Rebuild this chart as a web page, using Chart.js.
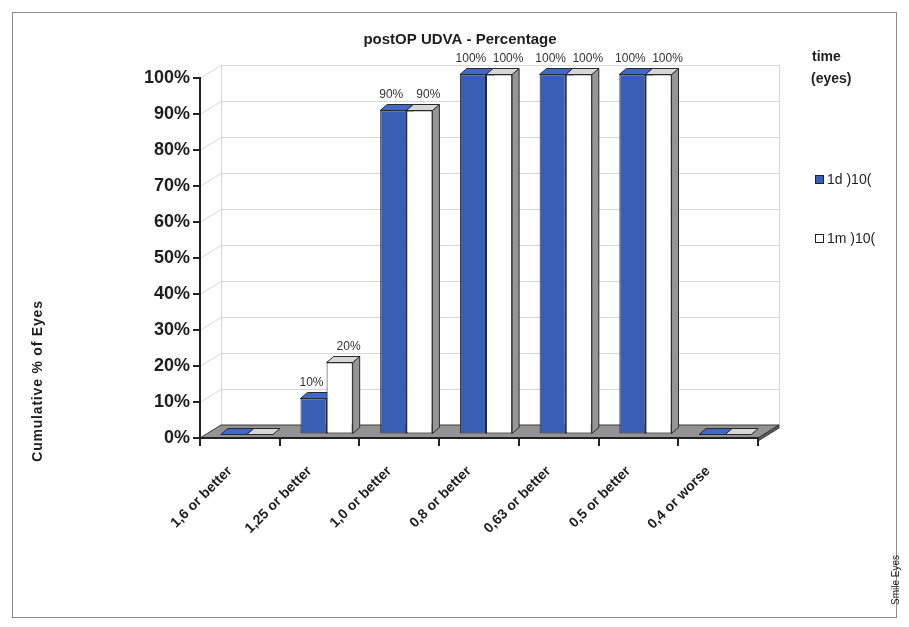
<!DOCTYPE html>
<html>
<head>
<meta charset="utf-8">
<title>postOP UDVA - Percentage</title>
<script src="https://cdn.jsdelivr.net/npm/chart.js@4.4.1/dist/chart.umd.min.js"></script>
<style>
  html, body { margin: 0; padding: 0; background: #ffffff; }
  #wrap { width: 909px; height: 627px; }
</style>
</head>
<body>
<div id="wrap"><canvas id="chart" width="909" height="627"></canvas></div>
<script>
// Cumulative visual acuity categories and the share of eyes reaching each
const categories = ['1,6 or better', '1,25 or better', '1,0 or better', '0,8 or better', '0,63 or better', '0,5 or better', '0,4 or worse'];
const seriesNames = ['1d )10(', '1m )10('];
const values1d = [0, 10, 90, 100, 100, 100, 0];
const values1m = [0, 20, 90, 100, 100, 100, 0];
const yTickValues = [0, 10, 20, 30, 40, 50, 60, 70, 80, 90, 100];

const chartTitle = 'postOP UDVA - Percentage';
const legendTitle = ['time', '(eyes)'];
const yAxisTitle = 'Cumulative % of Eyes';
const footNote = 'Smile Eyes';

const FONT = "'Liberation Sans', Arial, sans-serif";

// pseudo-3D geometry (pixels)
const WALL_DX = 21, WALL_DY = -13;   // depth of the floor / back wall
const BAR_OX = 7, BAR_OY = -3.5;     // bars sit in the middle of the floor depth
const BAR_DX = 7, BAR_DY = -6;       // depth of each bar

const palette = {
  blue:  { front: '#3a5db6', top: '#4068c4', side: '#2b4790' },
  white: { front: '#ffffff', top: '#d6d6d6', side: '#969696' },
  edge: '#2a2a2a',
  wallGrid: '#d6d6d6',
  floor: '#939393'
};
const faceColors = [palette.blue, palette.white];

function poly(ctx, pts, fill, stroke) {
  ctx.beginPath();
  ctx.moveTo(pts[0][0], pts[0][1]);
  for (let i = 1; i < pts.length; i++) ctx.lineTo(pts[i][0], pts[i][1]);
  ctx.closePath();
  if (fill) { ctx.fillStyle = fill; ctx.fill(); }
  if (stroke) { ctx.strokeStyle = stroke; ctx.lineWidth = 1; ctx.stroke(); }
}

const depthPlugin = {
  id: 'depth3d',
  beforeDraw(chart) {
    const ctx = chart.ctx;
    const a = chart.chartArea;
    const y = chart.scales.y;
    ctx.save();
    ctx.fillStyle = '#ffffff';
    ctx.fillRect(0, 0, chart.width, chart.height);
    // outer frame
    ctx.strokeStyle = '#8c8c8c';
    ctx.lineWidth = 1;
    ctx.strokeRect(12.5, 12.5, 884, 605);

    const y0 = y.getPixelForValue(0), y100 = y.getPixelForValue(100);
    // back wall gridlines and left wall diagonals
    ctx.strokeStyle = palette.wallGrid;
    ctx.lineWidth = 1;
    yTickValues.forEach(v => {
      const py = Math.round(y.getPixelForValue(v)) + 0.5;
      ctx.beginPath();
      ctx.moveTo(a.left, py);
      ctx.lineTo(a.left + WALL_DX, py + WALL_DY);
      ctx.lineTo(a.right + WALL_DX, py + WALL_DY);
      ctx.stroke();
    });
    ctx.beginPath();
    ctx.moveTo(a.left + WALL_DX + 0.5, y100 + WALL_DY);
    ctx.lineTo(a.left + WALL_DX + 0.5, y0 + WALL_DY);
    ctx.moveTo(a.right + WALL_DX + 0.5, y100 + WALL_DY);
    ctx.lineTo(a.right + WALL_DX + 0.5, y0 + WALL_DY);
    ctx.stroke();

    // floor
    poly(ctx, [[a.left, y0], [a.right, y0], [a.right + WALL_DX, y0 + WALL_DY], [a.left + WALL_DX, y0 + WALL_DY]], palette.floor, '#3a3a3a');
    poly(ctx, [[a.right, y0], [a.right + WALL_DX, y0 + WALL_DY], [a.right + WALL_DX, y0 + WALL_DY + 3], [a.right, y0 + 3]], '#5a5a5a', '#3a3a3a');
    ctx.restore();
  },
  beforeDatasetsDraw(chart) {
    const ctx = chart.ctx;
    ctx.save();
    // side faces, then top faces, of every bar
    const metas = chart.data.datasets.map((d, di) => chart.getDatasetMeta(di));
    metas.forEach((meta, di) => {
      meta.data.forEach(el => {
        const x2 = el.x + el.width / 2 + BAR_OX;
        const yt = el.y + BAR_OY, yb = el.base + BAR_OY;
        if (yb - yt > 0.5) {
          poly(ctx, [[x2, yt], [x2 + BAR_DX, yt + BAR_DY], [x2 + BAR_DX, yb + BAR_DY], [x2, yb]], faceColors[di].side, palette.edge);
        }
      });
    });
    metas.forEach((meta, di) => {
      meta.data.forEach(el => {
        const x1 = el.x - el.width / 2 + BAR_OX, x2 = el.x + el.width / 2 + BAR_OX;
        const yt = el.y + BAR_OY;
        poly(ctx, [[x1, yt], [x2, yt], [x2 + BAR_DX, yt + BAR_DY], [x1 + BAR_DX, yt + BAR_DY]], faceColors[di].top, palette.edge);
      });
    });
    // front faces are drawn by Chart.js, shifted into the bar plane
    ctx.translate(BAR_OX, BAR_OY);
  },
  afterDatasetsDraw(chart) {
    const ctx = chart.ctx;
    ctx.restore();
    ctx.save();
    // value labels above the bars
    ctx.font = '12px ' + FONT;
    ctx.fillStyle = '#333333';
    ctx.textAlign = 'center';
    ctx.textBaseline = 'middle';
    chart.data.datasets.forEach((ds, di) => {
      const meta = chart.getDatasetMeta(di);
      meta.data.forEach((el, i) => {
        const v = ds.data[i];
        if (!v) return;
        const lx = el.x + BAR_OX + (di === 0 ? -2 : 9);
        const ly = el.y + BAR_OY - 16;
        ctx.fillText(v + '%', lx, ly);
      });
    });
    ctx.restore();
  },
  afterDraw(chart) {
    const ctx = chart.ctx;
    ctx.save();
    ctx.fillStyle = '#1e1e1e';
    // chart title
    ctx.font = 'bold 15px ' + FONT;
    ctx.textAlign = 'center';
    ctx.textBaseline = 'middle';
    ctx.fillText(chartTitle, 460, 40);

    // legend
    ctx.textAlign = 'left';
    ctx.font = 'bold 14px ' + FONT;
    ctx.fillText(legendTitle[0], 812, 57);
    ctx.fillText(legendTitle[1], 811, 79);
    const itemY = [180, 239];
    chart.data.datasets.forEach((ds, di) => {
      const cy = itemY[di];
      ctx.fillStyle = ds.backgroundColor;
      ctx.fillRect(815.5, cy - 4.5, 8, 8);
      ctx.strokeStyle = '#222222';
      ctx.lineWidth = 1;
      ctx.strokeRect(815.5, cy - 4.5, 8, 8);
      ctx.fillStyle = '#1e1e1e';
      ctx.font = '14px ' + FONT;
      ctx.fillText(ds.label, 827, cy);
    });

    // axis title on the left
    ctx.save();
    ctx.translate(38, 381);
    ctx.rotate(-Math.PI / 2);
    ctx.textAlign = 'center';
    ctx.font = 'bold 14px ' + FONT;
    ctx.letterSpacing = '0.8px';
    ctx.fillText(yAxisTitle, 0, 0);
    ctx.restore();

    // source note at the bottom right
    ctx.save();
    ctx.translate(896, 580);
    ctx.rotate(-Math.PI / 2);
    ctx.textAlign = 'center';
    ctx.font = '10px ' + FONT;
    ctx.fillText(footNote, 0, 0);
    ctx.restore();
    ctx.restore();
  }
};

new Chart(document.getElementById('chart'), {
  type: 'bar',
  data: {
    labels: categories,
    datasets: [
      { label: seriesNames[0], data: values1d, backgroundColor: palette.blue.front, borderColor: palette.edge, borderWidth: 1, borderSkipped: false },
      { label: seriesNames[1], data: values1m, backgroundColor: palette.white.front, borderColor: palette.edge, borderWidth: 1, borderSkipped: false }
    ]
  },
  options: {
    responsive: false,
    animation: false,
    devicePixelRatio: 1,
    layout: { padding: { left: 0, right: 151, top: 78, bottom: 0 } },
    datasets: { bar: { categoryPercentage: 0.655, barPercentage: 1.0, clip: false } },
    plugins: {
      legend: { display: false },
      title: { display: false },
      tooltip: { enabled: false }
    },
    scales: {
      x: {
        offset: true,
        grid: { offset: true, drawOnChartArea: false, drawTicks: true, tickLength: 8, color: '#222222', lineWidth: 2 },
        border: { display: true, color: '#222222', width: 2 },
        ticks: {
          autoSkip: false, minRotation: 45, maxRotation: 45,
          labelOffset: -10, padding: 17,
          color: '#1e1e1e',
          font: { family: FONT, size: 14, weight: 'bold' }
        },
        afterFit(scale) { scale.height = 189; }
      },
      y: {
        min: 0, max: 100,
        afterBuildTicks(scale) { scale.ticks = yTickValues.map(v => ({ value: v })); },
        grid: { drawOnChartArea: false, drawTicks: true, tickLength: 7, color: '#222222', lineWidth: 2 },
        border: { display: true, color: '#222222', width: 2 },
        ticks: {
          callback: v => v + '%',
          color: '#1e1e1e',
          padding: 3,
          font: { family: FONT, size: 18, weight: 'bold' }
        },
        afterFit(scale) { scale.width = 200; }
      }
    }
  },
  plugins: [depthPlugin]
});
</script>
</body>
</html>
